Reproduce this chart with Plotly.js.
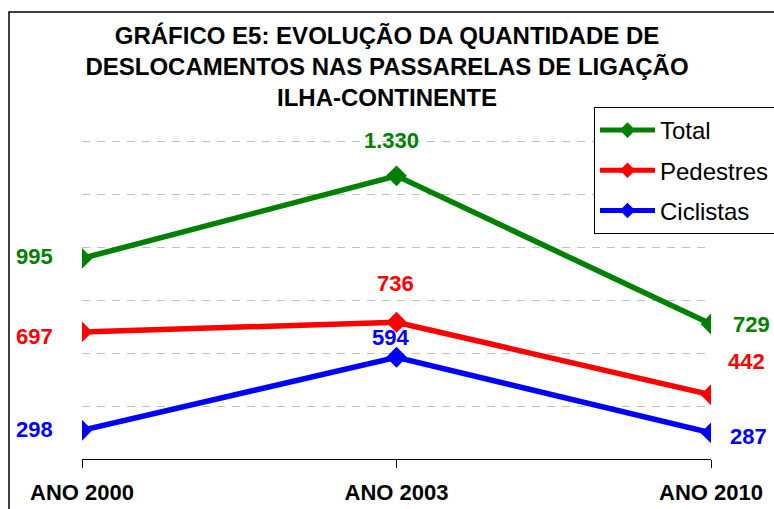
<!DOCTYPE html>
<html>
<head>
<meta charset="utf-8">
<script src="https://cdn.plot.ly/plotly-3.0.1.min.js"></script>
<style>
html,body{margin:0;padding:0;background:#fff;}
#chart{width:774px;height:509px;}
</style>
</head>
<body>
<div id="chart"></div>
<script>
// ---- data ----
var categories = ['ANO 2000', 'ANO 2003', 'ANO 2010'];
var seriesNames = ['Total', 'Pedestres', 'Ciclistas'];
var totalValues = [995, 1330, 729];
var pedestresValues = [697, 736, 442];
var ciclistasValues = [298, 594, 287];
var titleText = 'GRÁFICO E5: EVOLUÇÃO DA QUANTIDADE DE<br>DESLOCAMENTOS NAS PASSARELAS DE LIGAÇÃO<br>ILHA-CONTINENTE';

// ---- styles ----
var colors = ['#008000', '#FF0000', '#0000FF'];
var FONT = 'Liberation Sans, Arial, sans-serif';
var allValues = [totalValues, pedestresValues, ciclistasValues];

// label offsets (px) relative to each marker: [xshift, yshift]
var labelShifts = [
  [[-48, 2], [-5, 35], [40, 0]],
  [[-48, -5], [-1, 39], [35, 33]],
  [[-48, 1], [-6, 20], [37, -4]]
];

function fmt(v) {
  var s = String(v);
  return s.replace(/\B(?=(\d{3})+(?!\d))/g, '.');
}

var traces = allValues.map(function (vals, i) {
  return {
    type: 'scatter',
    mode: 'lines+markers',
    name: seriesNames[i],
    legendgroup: 'g' + i,
    x: categories,
    y: vals,
    line: {color: colors[i], width: 5.5},
    marker: {symbol: 'diamond', size: 16, color: colors[i]},
    hoverinfo: 'x+y+name'
  };
});

var annotations = [];
allValues.forEach(function (vals, i) {
  vals.forEach(function (v, j) {
    annotations.push({
      x: categories[j], y: v, xref: 'x', yref: 'y',
      text: fmt(v), showarrow: false,
      xshift: labelShifts[i][j][0], yshift: labelShifts[i][j][1],
      font: {family: FONT, size: 22, color: colors[i], weight: 700}
    });
  });
});

// plot area geometry in px
var L = 82, R = 711, T = 92, B = 459, W = 774, H = 509;
var pw = R - L, ph = B - T;
function px(xp) { return (xp - L) / pw; }
function py(yp) { return (B - yp) / ph; }

var yMin = 181.3, unitsPerPx = 4.057;
var yMax = yMin + ph * unitsPerPx;

var layout = {
  width: W, height: H,
  margin: {l: L, r: W - R, t: T, b: H - B, pad: 0, autoexpand: false},
  paper_bgcolor: '#ffffff',
  plot_bgcolor: '#ffffff',
  showlegend: true,
  title: {
    text: titleText,
    font: {family: FONT, size: 24, color: '#000000', weight: 700},
    x: 387 / W, xanchor: 'center', xref: 'container',
    y: 1 - 44 / H, yanchor: 'top', yref: 'container',
    automargin: false
  },
  xaxis: {
    type: 'category',
    range: [0, 2],
    showline: true, linecolor: '#000000', linewidth: 1,
    ticks: 'outside', ticklen: 8, tickcolor: '#000000', tickwidth: 1,
    showgrid: false, zeroline: false,
    ticklabelstandoff: 6,
    automargin: false,
    tickfont: {family: FONT, size: 22, color: '#000000', weight: 700},
    fixedrange: true
  },
  yaxis: {
    range: [yMin, yMax],
    tick0: yMin, dtick: 215,
    showticklabels: false, ticks: '',
    showline: false, zeroline: false,
    automargin: false,
    showgrid: true, gridcolor: '#c0c0c0', gridwidth: 1, griddash: '8px,7px',
    fixedrange: true
  },
  legend: {
    xref: 'container', yref: 'container',
    x: 594 / W, y: 1 - 107 / H, xanchor: 'left', yanchor: 'top',
    bgcolor: '#ffffff', bordercolor: '#000000', borderwidth: 1,
    font: {family: FONT, size: 24, color: '#000000'},
    itemwidth: 55, itemsizing: 'constant',
    tracegroupgap: 6,
    traceorder: 'grouped'
  },
  annotations: annotations,
  shapes: [{
    type: 'rect', xref: 'paper', yref: 'paper',
    x0: px(9), x1: px(790), y0: py(530), y1: py(12),
    line: {color: '#000000', width: 1.5}, fillcolor: 'rgba(0,0,0,0)', layer: 'below'
  }]
};

Plotly.newPlot('chart', traces, layout, {displayModeBar: false});
</script>
</body>
</html>
